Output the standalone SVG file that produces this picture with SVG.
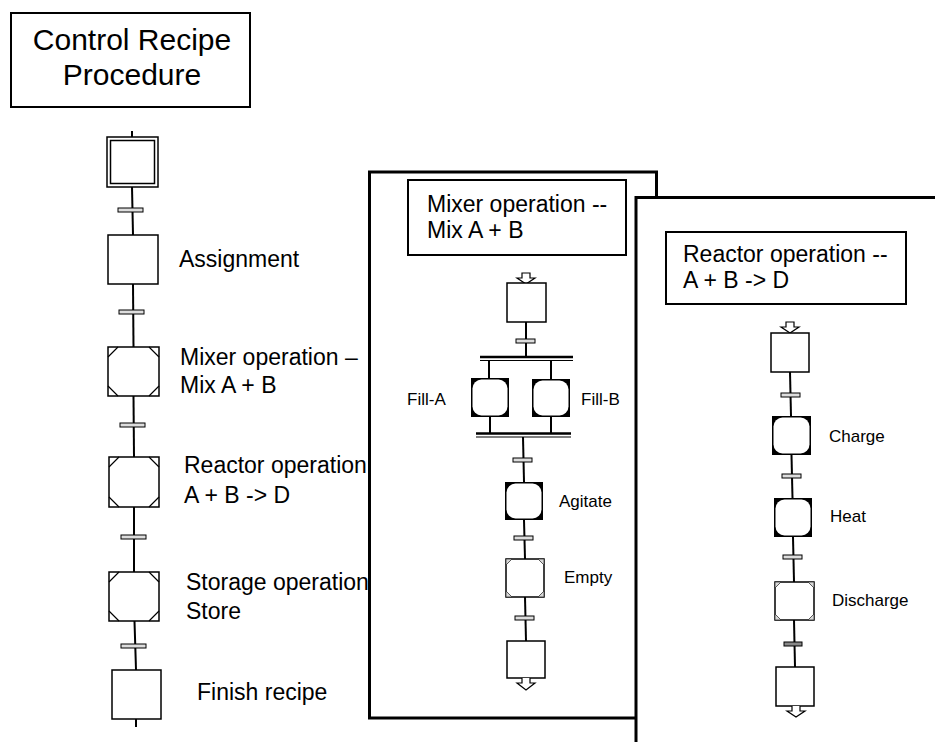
<svg xmlns="http://www.w3.org/2000/svg" width="935" height="742" viewBox="0 0 935 742">
<style>
text{font-family:"Liberation Sans",Arial,sans-serif;fill:#000}
.big{font-size:30px}
.lbl{font-size:23px}
.ttl{font-size:23px}
.sm{font-size:17px}
.box{fill:#fff;stroke:#000;stroke-width:1.5}
.blk{fill:#000}
.inn{fill:#fff}
.crn{fill:none;stroke:#000;stroke-width:1.2}
.crs{fill:#d8d8d8;stroke:#333;stroke-width:0.8}
.tr{fill:#ddd;stroke:#000;stroke-width:1}
.ln{fill:none;stroke:#000;stroke-width:2}
.panel{fill:#fff;stroke:#000;stroke-width:3}
.frame{fill:#fff;stroke:#000;stroke-width:2}
.arr{fill:#fff;stroke:#000;stroke-width:1.2}
</style>

<g id="title">
<rect x="11" y="13" width="239" height="94" fill="#fff" stroke="#000" stroke-width="2"/>
<text class="big" x="132" y="50" text-anchor="middle">Control Recipe</text>
<text class="big" x="132" y="85" text-anchor="middle">Procedure</text>
</g>

<!-- Left column -->
<g id="left-connectors">
<line class="ln" x1="132" y1="131" x2="132" y2="137"/>
<line class="ln" x1="132" y1="187" x2="133" y2="235"/>
<line class="ln" x1="133" y1="284" x2="133.5" y2="347"/>
<line class="ln" x1="133.5" y1="396" x2="134" y2="457"/>
<line class="ln" x1="134" y1="507" x2="134" y2="572"/>
<line class="ln" x1="134.5" y1="621" x2="136" y2="670"/>
<line class="ln" x1="136" y1="719" x2="136" y2="727"/>
</g>
<g id="left-transitions">
<rect class="tr" x="118" y="208" width="25" height="4"/>
<rect class="tr" x="119" y="310" width="25" height="4"/>
<rect class="tr" x="120" y="423" width="25" height="4"/>
<rect class="tr" x="121" y="535" width="25" height="4"/>
<rect class="tr" x="121" y="644" width="25" height="4"/>
</g>
<g id="step-start">
<rect class="box" x="107" y="137" width="51" height="50"/>
<rect class="box" x="110.5" y="140.5" width="44" height="43"/>
</g>
<g id="step-assignment">
<rect class="box" x="108" y="235" width="50" height="49"/>
<text class="lbl" x="179" y="267">Assignment</text>
</g>
<g id="step-mixer">
<rect class="box" x="108" y="347" width="51" height="49"/>
<path class="crn" d="M108,357 L118,347 M149,347 L159,357 M159,386 L149,396 M118,396 L108,386"/>
<text class="lbl" x="180" y="365">Mixer operation –</text>
<text class="lbl" x="180" y="393">Mix A + B</text>
</g>
<g id="step-reactor">
<rect class="box" x="109" y="457" width="50" height="50"/>
<path class="crn" d="M109,467 L119,457 M149,457 L159,467 M159,497 L149,507 M119,507 L109,497"/>
<text class="lbl" x="184" y="473">Reactor operation</text>
<text class="lbl" x="184" y="503">A + B -&gt; D</text>
</g>
<g id="step-storage">
<rect class="box" x="109" y="572" width="50" height="49"/>
<path class="crn" d="M109,582 L119,572 M149,572 L159,582 M159,611 L149,621 M119,621 L109,611"/>
<text class="lbl" x="186" y="590">Storage operation</text>
<text class="lbl" x="186" y="619">Store</text>
</g>
<g id="step-finish">
<rect class="box" x="112" y="670" width="49" height="49"/>
<text class="lbl" x="197" y="700">Finish recipe</text>
</g>

<!-- Middle panel -->
<g id="mixer-panel">
<rect class="panel" x="369.5" y="172" width="287" height="546"/>
<rect class="frame" x="408" y="180" width="218" height="75"/>
<text class="ttl" x="427" y="212">Mixer operation --</text>
<text class="ttl" x="427" y="238">Mix A + B</text>
</g>
<g id="mixer-connectors">
<line class="ln" x1="526" y1="322" x2="526" y2="356"/>
<line x1="480" y1="357" x2="573" y2="357" stroke="#000" stroke-width="2.5"/>
<line x1="480" y1="360.5" x2="573" y2="360.5" stroke="#000" stroke-width="1.2"/>
<line class="ln" x1="489" y1="361" x2="489" y2="378"/>
<line class="ln" x1="551" y1="361" x2="551" y2="379"/>
<line class="ln" x1="490" y1="417" x2="490" y2="433"/>
<line class="ln" x1="551" y1="417" x2="551" y2="433"/>
<line x1="476" y1="433.5" x2="571" y2="433.5" stroke="#000" stroke-width="2.5"/>
<line x1="476" y1="437" x2="571" y2="437" stroke="#000" stroke-width="1.2"/>
<line class="ln" x1="523" y1="437" x2="524" y2="482"/>
<line class="ln" x1="524" y1="520" x2="525" y2="559"/>
<line class="ln" x1="525" y1="597" x2="526" y2="641"/>
</g>
<g id="mixer-transitions">
<rect class="tr" x="516" y="339" width="19" height="4"/>
<rect class="tr" x="513" y="458" width="19" height="4"/>
<rect class="tr" x="514" y="536" width="19" height="4"/>
<rect class="tr" x="515" y="616" width="19" height="4"/>
</g>
<g id="mixer-initial">
<path class="arr" d="M522,273 h8 v5 h5 l-9,6 l-9,-6 h5 z"/>
<rect class="box" x="507" y="283" width="39" height="39"/>
</g>
<g id="fill-a">
<rect class="blk" x="471" y="378" width="38" height="39"/>
<rect class="inn" x="472.5" y="379.5" width="35" height="36" rx="9"/>
<text class="sm" x="407" y="405">Fill-A</text>
</g>
<g id="fill-b">
<rect class="blk" x="532" y="379" width="38" height="38"/>
<rect class="inn" x="533.5" y="380.5" width="35" height="35" rx="9"/>
<text class="sm" x="581" y="405">Fill-B</text>
</g>
<g id="agitate">
<rect class="blk" x="505" y="482" width="38" height="38"/>
<rect class="inn" x="506.5" y="483.5" width="35" height="35" rx="9"/>
<text class="sm" x="559" y="507">Agitate</text>
</g>
<g id="empty">
<rect class="box" x="506" y="559" width="38" height="38"/>
<path class="crs" d="M506,559 h6 l-6,6 z M544,559 h-6 l6,6 z M544,597 h-6 l6,-6 z M506,597 h6 l-6,-6 z"/>
<text class="sm" x="564" y="583">Empty</text>
</g>
<g id="mixer-final">
<rect class="box" x="507" y="641" width="38" height="37"/>
<path class="arr" d="M522,678 v5 h-5 l9,7 l9,-7 h-5 v-5"/>
</g>

<!-- Right panel -->
<g id="reactor-panel">
<rect class="panel" x="636" y="197.5" width="320" height="570"/>
<rect class="frame" x="666" y="232" width="240" height="72"/>
<text class="ttl" x="683" y="262">Reactor operation --</text>
<text class="ttl" x="683" y="288">A + B -&gt; D</text>
</g>
<g id="reactor-connectors">
<line class="ln" x1="790" y1="372" x2="791" y2="416"/>
<line class="ln" x1="791.5" y1="455" x2="792.5" y2="498"/>
<line class="ln" x1="793" y1="537" x2="794" y2="582"/>
<line class="ln" x1="794" y1="620" x2="795" y2="667"/>
</g>
<g id="reactor-transitions">
<rect class="tr" x="781" y="393" width="19" height="4"/>
<rect class="tr" x="782" y="474" width="19" height="4"/>
<rect class="tr" x="783" y="555" width="19" height="4"/>
<rect x="784" y="642" width="18" height="4" fill="#888" stroke="#000" stroke-width="1"/>
</g>
<g id="reactor-initial">
<path class="arr" d="M786,322 h8 v5 h5 l-9,6 l-9,-6 h5 z"/>
<rect class="box" x="771" y="333" width="38" height="39"/>
</g>
<g id="charge">
<rect class="blk" x="772" y="416" width="39" height="39"/>
<rect class="inn" x="773.5" y="417.5" width="36" height="36" rx="9"/>
<text class="sm" x="829" y="442">Charge</text>
</g>
<g id="heat">
<rect class="blk" x="774" y="498" width="38" height="39"/>
<rect class="inn" x="775.5" y="499.5" width="35" height="36" rx="9"/>
<text class="sm" x="830" y="522">Heat</text>
</g>
<g id="discharge">
<rect class="box" x="775" y="582" width="39" height="38"/>
<path class="crs" d="M775,582 h6 l-6,6 z M814,582 h-6 l6,6 z M814,620 h-6 l6,-6 z M775,620 h6 l-6,-6 z"/>
<text class="sm" x="832" y="606">Discharge</text>
</g>
<g id="reactor-final">
<rect class="box" x="776" y="667" width="38" height="39"/>
<path class="arr" d="M792,706 v5 h-5 l9,6 l9,-6 h-5 v-5"/>
</g>
</svg>
